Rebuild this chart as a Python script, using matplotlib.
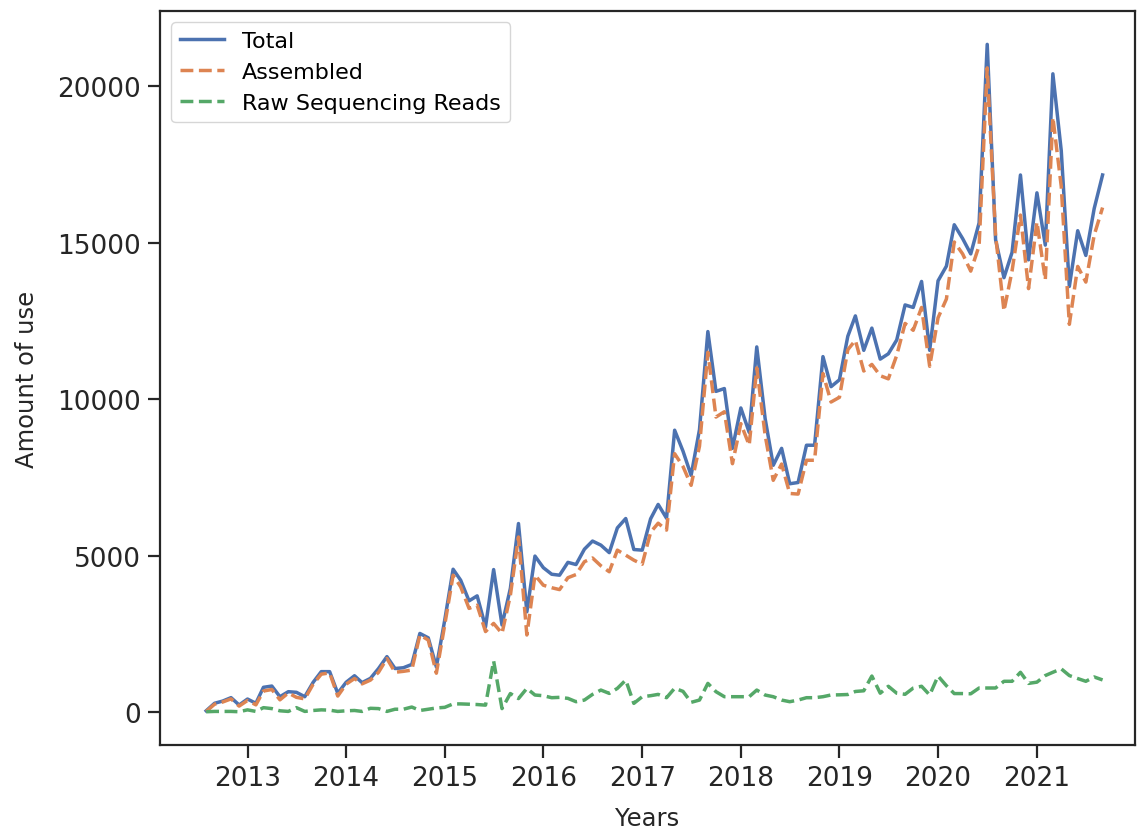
import matplotlib
matplotlib.use("Agg")
import matplotlib.pyplot as plt
import matplotlib.dates as mdates
import pandas as pd

# Monthly observations, Aug 2012 .. Sep 2021
start_month = "2012-08-01"

total = [50, 290, 360, 470, 235, 425, 290, 800, 840, 500,
         660, 640, 500, 960, 1300, 1300, 610, 960, 1170, 950,
         1085, 1400, 1780, 1400, 1425, 1530, 2520, 2380, 1450, 2945,
         4570, 4220, 3560, 3720, 2730, 4560, 2790, 3960, 6030, 3210,
         4990, 4620, 4410, 4380, 4790, 4720, 5210, 5470, 5340, 5100,
         5890, 6190, 5200, 5180, 6180, 6640, 6200, 9010, 8340, 7570,
         9030, 12160, 10250, 10340, 8430, 9720, 8940, 11670, 9380, 7890,
         8430, 7300, 7340, 8530, 8530, 11360, 10400, 10620, 12010, 12660,
         11560, 12270, 11280, 11450, 11890, 13010, 12930, 13760, 11560, 13780,
         14250, 15570, 15130, 14640, 15630, 21330, 15090, 13880, 14690, 17160,
         14450, 16590, 14920, 20390, 17940, 13600, 15380, 14590, 16090, 17160]

assembled = [30, 260, 330, 430, 200, 380, 240, 680, 730, 400,
             620, 480, 430, 900, 1220, 1260, 520, 900, 1080, 910,
             1030, 1280, 1720, 1280, 1310, 1350, 2470, 2310, 1250, 2790,
             4380, 4010, 3320, 3420, 2580, 2840, 2520, 3740, 5600, 2470,
             4380, 4060, 3980, 3920, 4300, 4400, 4810, 4930, 4680, 4490,
             5180, 5020, 4860, 4730, 5750, 6040, 5820, 8260, 7850, 7250,
             8500, 11500, 9430, 9600, 7940, 9220, 8530, 11000, 8850, 7410,
             7930, 6990, 6970, 8050, 8050, 10820, 9910, 10060, 11580, 11880,
             10900, 11110, 10750, 10650, 11400, 12420, 12200, 12930, 11050, 12600,
             13200, 15020, 14640, 14090, 14900, 20580, 15230, 12820, 14100, 15880,
             13530, 15660, 13810, 19000, 16800, 12390, 14240, 13740, 15240, 16120]

raw_reads = [20, 30, 30, 30, 20, 80, 30, 150, 120, 50,
             30, 150, 30, 60, 80, 70, 30, 50, 60, 30,
             130, 120, 30, 100, 100, 170, 60, 100, 140, 160,
             270, 270, 260, 250, 230, 1640, 120, 600, 440, 766,
             553, 532, 468, 479, 447, 340, 393, 574, 712, 606,
             766, 1031, 287, 500, 532, 574, 468, 770, 670, 320,
             393, 925, 660, 500, 500, 500, 500, 712, 553, 500,
             393, 340, 393, 468, 468, 500, 555, 560, 570, 667,
             689, 1160, 612, 833, 612, 577, 775, 833, 555, 1160,
             850, 600, 600, 593, 778, 778, 778, 992, 992, 1279,
             925, 965, 1175, 1280, 1390, 1175, 1080, 992, 1130, 1035]

series_labels = ["Total", "Assembled", "Raw Sequencing Reads"]
colors = ["#4C72B0", "#DD8452", "#55A868"]
x_range = ("2012-02-12", "2021-12-29")

dates = pd.date_range(start_month, periods=len(total), freq="MS")

plt.rcParams["font.family"] = ["DejaVu Sans"]
fig = plt.figure(figsize=(11.37, 8.29), dpi=100)
ax = fig.add_axes([0.1407, 0.100, 0.8573, 0.8855])

lw = 2.5
ax.plot(dates, total, color=colors[0], lw=lw, linestyle="-", label=series_labels[0])
ax.plot(dates, assembled, color=colors[1], lw=lw, linestyle="--", label=series_labels[1])
ax.plot(dates, raw_reads, color=colors[2], lw=lw, linestyle="--", label=series_labels[2])

ax.set_xlim(pd.Timestamp(x_range[0]), pd.Timestamp(x_range[1]))
ax.xaxis.set_major_locator(mdates.YearLocator())
ax.xaxis.set_major_formatter(mdates.DateFormatter("%Y"))
ax.set_yticks([0, 5000, 10000, 15000, 20000])

for sp in ax.spines.values():
    sp.set_linewidth(1.6)
    sp.set_color("#262626")
ax.tick_params(axis="both", which="major", direction="out", length=9, width=1.6,
               color="#262626", labelsize=19, labelcolor="#262626", pad=5)

ax.set_xlabel("Years", fontsize=17.5, color="#262626", labelpad=11)
ax.set_ylabel("Amount of use", fontsize=17.5, color="#262626", labelpad=13)

leg = ax.legend(loc="upper left", fontsize=16, frameon=True, fancybox=True,
                edgecolor="#cccccc", framealpha=0.8)

fig.savefig("out.png", dpi=100)
